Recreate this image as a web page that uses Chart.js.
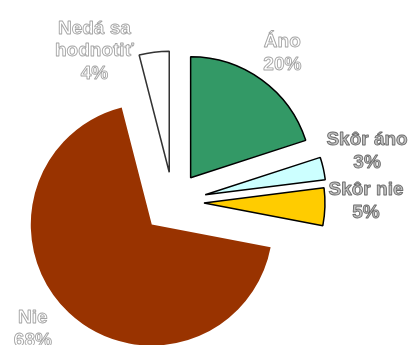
<!DOCTYPE html>
<html>
<head>
<meta charset="utf-8">
<script src="https://cdn.jsdelivr.net/npm/chart.js@4/dist/chart.umd.min.js"></script>
<style>
  html, body { margin: 0; padding: 0; background: #fff; }
  #wrap { width: 412px; height: 345px; position: relative; }
</style>
</head>
<body>
<div id="wrap"><canvas id="pie"></canvas></div>
<script>
// answers, in drawing order (clockwise from 12 o'clock)
const categories = [['Áno'], ['Skôr áno'], ['Skôr nie'], ['Nie'], ['Nedá sa', 'hodnotiť']];
const shares = [20, 3, 5, 68, 4];
const sliceColors = ['#339966', '#ccffff', '#ffcc00', '#993300', '#ffffff'];
const edgeColors = ['#000000', '#000000', '#000000', '#993300', '#333333'];
const edgeWidths = [1.5, 1.5, 1.5, 0, 1.5];

// how far each slice is pulled out of the pie, px
const explode = [30, 33, 31, 31, 30];
// label block: distance from pie centre and angle nudge (deg) off the slice middle
const labelPlace = [[186, 0], [201, -2.5], [193, -2.5], [188, 5], [172, -20]];
// outline / fill colours of the label lettering
const labelInk = [
  ['#a5a5a5', '#ffffff'],
  ['#6c6c6c', '#c4c4c4'],
  ['#6c6c6c', '#c4c4c4'],
  ['#a5a5a5', '#ffffff'],
  ['#a5a5a5', '#ffffff']
];
const lineH = 22.5;

const explodedSlices = {
  id: 'explodedSlices',
  beforeDatasetDraw(chart, args) {
    const ctx = chart.ctx;
    args.meta.data.forEach((arc, i) => {
      const mid = (arc.startAngle + arc.endAngle) / 2;
      ctx.save();
      ctx.translate(Math.cos(mid) * explode[i], Math.sin(mid) * explode[i]);
      arc.draw(ctx);
      ctx.restore();
    });
    return false;
  },
  afterDatasetsDraw(chart) {
    const ctx = chart.ctx;
    const meta = chart.getDatasetMeta(0);
    ctx.save();
    ctx.font = 'bold 19px "Liberation Sans", Arial, sans-serif';
    ctx.textAlign = 'center';
    ctx.textBaseline = 'alphabetic';
    ctx.lineJoin = 'round';
    meta.data.forEach((arc, i) => {
      const [dist, nudge] = labelPlace[i];
      const a = (arc.startAngle + arc.endAngle) / 2 + nudge * Math.PI / 180;
      const cx = arc.x + Math.cos(a) * dist;
      const cy = arc.y + Math.sin(a) * dist;
      const lines = [...categories[i], shares[i] + '%'];
      const first = cy + 7 - (lines.length - 1) * lineH / 2;
      const [edge, fill] = labelInk[i];
      lines.forEach((t, k) => {
        const y = first + k * lineH;
        ctx.fillStyle = fill;
        ctx.fillText(t, cx, y);
        ctx.strokeStyle = edge;
        ctx.lineWidth = 0.9;
        ctx.strokeText(t, cx, y);
      });
    });
    ctx.restore();
  }
};

new Chart(document.getElementById('pie'), {
  type: 'pie',
  data: {
    labels: categories.map(c => c.join(' ')),
    datasets: [{
      data: shares,
      backgroundColor: sliceColors,
      borderColor: edgeColors,
      borderWidth: edgeWidths,
      radius: 121
    }]
  },
  options: {
    responsive: true,
    maintainAspectRatio: false,
    animation: false,
    events: [],
    layout: { padding: { left: 0, right: 66, top: 59, bottom: 0 } },
    plugins: {
      legend: { display: false },
      tooltip: { enabled: false }
    }
  },
  plugins: [explodedSlices]
});
</script>
</body>
</html>
